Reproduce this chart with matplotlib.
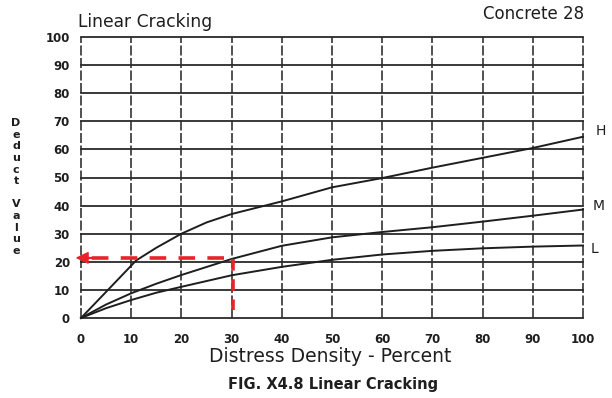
import matplotlib.pyplot as plt
import numpy as np

# values (Deduct Value vs Distress Density)
density_H = [0, 5, 11, 15, 20, 25, 30, 40, 50, 60, 70, 80, 90, 100]
deduct_H = [0, 9.3, 20.5, 25, 30, 34, 37, 41.5, 46.5, 49.8, 53.5, 57, 60.5, 64.5]

density_M = [0, 5, 10, 15, 20, 30, 40, 50, 60, 70, 80, 90, 100]
deduct_M = [0, 4.8, 8.8, 12.2, 15.3, 21, 25.7, 28.7, 30.6, 32.3, 34.3, 36.4, 38.6]

density_L = [0, 5, 10, 15, 20, 30, 40, 50, 60, 70, 80, 90, 100]
deduct_L = [0, 3.5, 6.4, 9, 11.1, 15.2, 18.2, 20.7, 22.6, 23.9, 24.8, 25.4, 25.8]

ticks = list(range(0, 101, 10))

# example reading drawn in red
read_density = 30
read_deduct = 21.4

RED = '#e8232a'
INK = '#1e1e1e'


def PlotDeductCurves():
    fig = plt.figure(figsize=(6.12, 3.98), dpi=100)
    ax = fig.add_axes([81/612, 1 - 318/398, 502/612, 281/398])

    ax.set_xlim(0, 100)
    ax.set_ylim(0, 100)
    ax.set_xticks(ticks)
    ax.set_yticks(ticks)
    ax.tick_params(length=0, labelsize=8.5, colors=INK)
    ax.tick_params(axis='x', pad=11)
    ax.tick_params(axis='y', pad=8)
    for lab in ax.get_xticklabels() + ax.get_yticklabels():
        lab.set_fontweight('bold')
    for s in ax.spines.values():
        s.set_visible(False)

    ax.grid(axis='y', color='#2a2a2a', linewidth=1.3)
    ax.grid(axis='x', color='#333333', linewidth=1.2, linestyle=(0, (6, 1.5)))
    for gl in ax.get_xgridlines() + ax.get_ygridlines():
        gl.set_clip_on(False)

    for x, y, name, off in [(density_H, deduct_H, 'H', (13, 4.3)),
                            (density_M, deduct_M, 'M', (11, 2.2)),
                            (density_L, deduct_L, 'L', (8.6, -2.2))]:
        ax.plot(x, y, color=INK, linewidth=1.4, clip_on=False)
        ax.annotate(name, xy=(x[-1], y[-1]), xytext=off, textcoords='offset points',
                    ha='center', va='center', fontsize=10, color=INK, annotation_clip=False)

    # red dashed reading: up from 30 % to the curve, then across to the axis
    ax.plot([read_density + 0.2, read_density + 0.2], [read_deduct - 0.4, 3], color=RED,
            linewidth=2.6, dashes=(3.2, 2.4), clip_on=False)
    ax.plot([read_density - 1.5, 1.5], [read_deduct, read_deduct], color=RED,
            linewidth=2.6, dashes=(4.6, 3.4), clip_on=False)
    ax.annotate('', xy=(-0.8, read_deduct), xytext=(2.2, read_deduct),
                arrowprops=dict(facecolor=RED, edgecolor=RED, width=0.5,
                                headwidth=7.5, headlength=8, shrink=0),
                annotation_clip=False)

    fig.text(78/612, 1 - 22/398, 'Linear Cracking', fontsize=12.3, color=INK, va='center')
    fig.text(584/612, 1 - 14/398, 'Concrete 28', fontsize=12, color=INK, va='center', ha='right')
    fig.text(16/612, 1 - 187/398, '\n'.join('Deduct Value'), fontsize=8, fontweight='bold',
             color=INK, ha='center', va='center', linespacing=1.2)
    fig.text(330/612, 1 - 356/398, 'Distress Density - Percent', fontsize=13.5, color=INK,
             ha='center', va='center')
    fig.text(333/612, 1 - 385/398, 'FIG. X4.8 Linear Cracking', fontsize=10.5,
             fontweight='bold', color=INK, ha='center', va='center')

    fig.savefig('out.png', dpi=100)


if __name__ == '__main__':
    PlotDeductCurves()
